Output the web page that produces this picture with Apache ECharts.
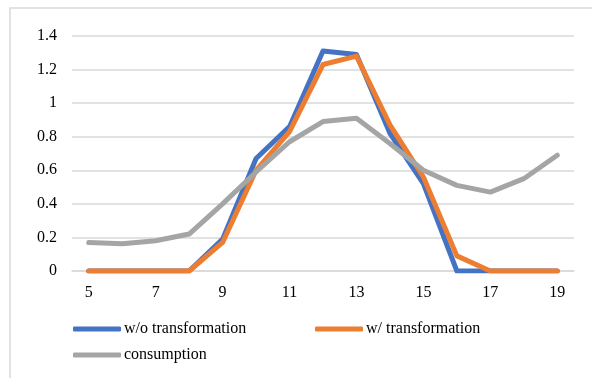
<!DOCTYPE html>
<html>
<head>
<meta charset="utf-8">
<script src="https://cdn.jsdelivr.net/npm/echarts@6/dist/echarts.min.js"></script>
<style>
  html, body { margin: 0; padding: 0; background: #ffffff; }
  #chart { width: 592px; height: 378px; }
</style>
</head>
<body>
<div id="chart"></div>
<script>
// Hours of the day on the horizontal axis
const hours = ['5', '6', '7', '8', '9', '10', '11', '12', '13', '14', '15', '16', '17', '18', '19'];

// Normalised profiles per hour
const withoutTransformation = [0, 0, 0, 0, 0.19, 0.67, 0.86, 1.31, 1.29, 0.82, 0.52, 0, 0, 0, 0];
const withTransformation    = [0, 0, 0, 0, 0.17, 0.60, 0.83, 1.23, 1.28, 0.87, 0.56, 0.09, 0, 0, 0];
const consumption           = [0.17, 0.163, 0.18, 0.22, 0.40, 0.59, 0.77, 0.89, 0.91, 0.76, 0.60, 0.51, 0.47, 0.55, 0.69];

const seriesNames = ['w/o transformation', 'w/ transformation', 'consumption'];
const seriesColors = ['#4472C4', '#ED7D31', '#A5A5A5'];
const seriesData = [withoutTransformation, withTransformation, consumption];

const FONT = '"Liberation Serif", "Times New Roman", serif';

const chart = echarts.init(document.getElementById('chart'), null, { renderer: 'canvas' });

function legendAt(name, left, top) {
  return {
    data: [name],
    left: left,
    top: top,
    orient: 'horizontal',
    icon: 'roundRect',
    itemWidth: 48,
    itemHeight: 5,
    itemGap: 0,
    padding: 0,
    selectedMode: false,
    textStyle: { fontFamily: FONT, fontSize: 16, color: '#000000', padding: [0, 0, 0, -2] }
  };
}

chart.setOption({
  animation: false,
  backgroundColor: '#ffffff',
  graphic: [{
    type: 'rect',
    shape: { x: 10, y: 8, width: 640, height: 420 },
    style: { fill: 'none', stroke: '#d9d9d9', lineWidth: 1.5 },
    silent: true
  }],
  grid: { left: 72, right: 18, top: 36, bottom: 107, containLabel: false },
  legend: [
    legendAt(seriesNames[0], 73, 321),
    legendAt(seriesNames[1], 315, 321),
    legendAt(seriesNames[2], 73, 347)
  ],
  xAxis: {
    type: 'category',
    data: hours,
    boundaryGap: true,
    axisLine: { show: true, lineStyle: { color: '#d9d9d9', width: 1.5 } },
    axisTick: { show: false },
    axisLabel: { interval: 1, margin: 14, fontFamily: FONT, fontSize: 16, color: '#000000' },
    splitLine: { show: false }
  },
  yAxis: {
    type: 'value',
    min: 0,
    max: 1.4,
    interval: 0.2,
    axisLine: { show: false },
    axisTick: { show: false },
    axisLabel: {
      margin: 15,
      fontFamily: FONT,
      fontSize: 16,
      color: '#000000',
      formatter: v => String(Math.round(v * 10) / 10)
    },
    splitLine: { lineStyle: { color: '#d9d9d9', width: 1.5 } }
  },
  series: seriesNames.map((name, i) => ({
    name: name,
    type: 'line',
    data: seriesData[i],
    symbol: 'none',
    smooth: false,
    lineStyle: { color: seriesColors[i], width: 5, cap: 'round', join: 'round' },
    itemStyle: { color: seriesColors[i] },
    z: 3 + i
  }))
});
</script>
</body>
</html>
